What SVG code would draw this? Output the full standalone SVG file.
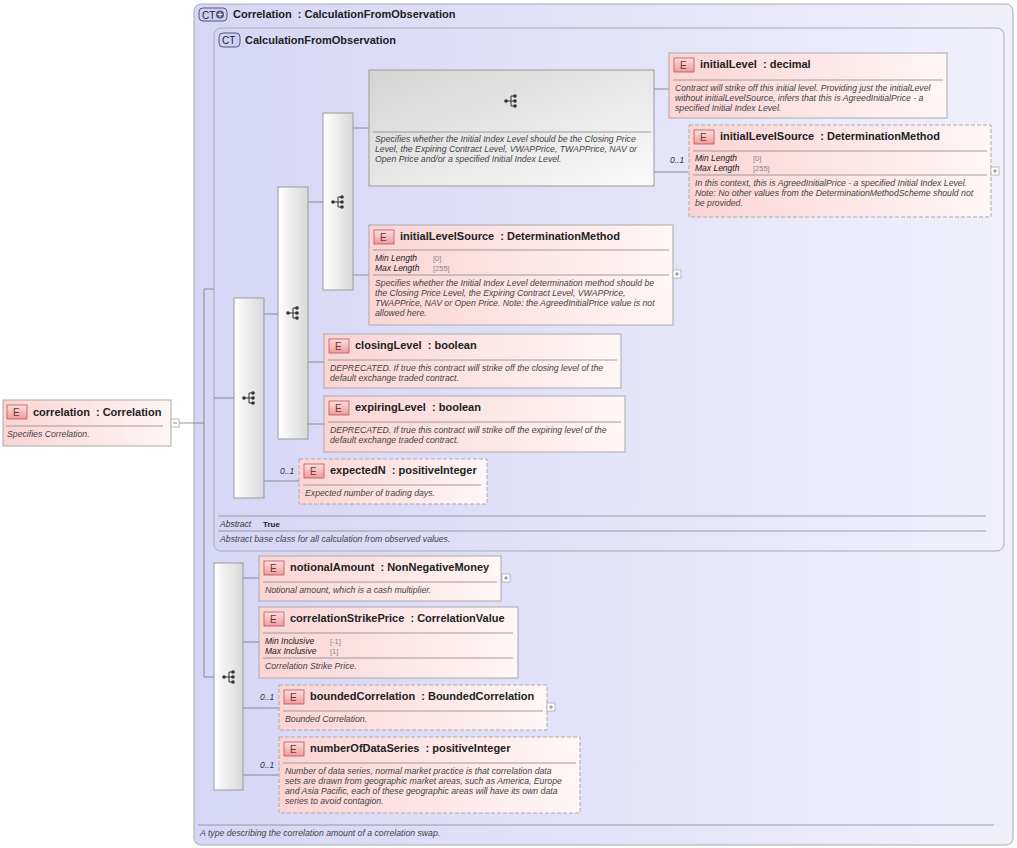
<svg xmlns="http://www.w3.org/2000/svg" width="1017" height="848" viewBox="0 0 1017 848">
<defs>
<linearGradient id="ct" x1="0" y1="0" x2="1" y2="0"><stop offset="0" stop-color="#d6d6f6"/><stop offset="1" stop-color="#f0f0fc"/></linearGradient>
<linearGradient id="el" x1="0" y1="0" x2="1" y2="0"><stop offset="0" stop-color="#fbd4d4"/><stop offset="1" stop-color="#fff6f6"/></linearGradient>
<linearGradient id="seq" x1="0" y1="0" x2="1" y2="0"><stop offset="0" stop-color="#ffffff"/><stop offset="1" stop-color="#d8d8d8"/></linearGradient>
<linearGradient id="ch" x1="0" y1="0" x2="1" y2="1"><stop offset="0" stop-color="#d4d4d4"/><stop offset="1" stop-color="#fafafa"/></linearGradient>
<linearGradient id="badge" x1="0" y1="0" x2="0" y2="1"><stop offset="0" stop-color="#fbe0e0"/><stop offset="1" stop-color="#f09a9a"/></linearGradient>
<g id="icon"><circle cx="-5" cy="0" r="1.8" fill="#333"/><path d="M-5 0H0M0 -5V5M0 -5H4M0 0H4M0 5H4" stroke="#333" fill="none" stroke-width="1"/><circle cx="4" cy="-5" r="1.8" fill="#333"/><circle cx="4" cy="0" r="1.8" fill="#333"/><circle cx="4" cy="5" r="1.8" fill="#333"/></g>
</defs>
<style>
text{font-family:"Liberation Sans",Arial,sans-serif;fill:#222}
.t{font-size:11px;font-weight:bold;white-space:pre}
.d{font-size:8.7px;font-style:italic;fill:#444}
.f{font-size:8.5px;font-style:italic;fill:#222}
.v{font-size:7.5px;fill:#888}
.m{font-size:8.5px;font-style:italic;fill:#333}
.b{font-size:10px;fill:#733}
.el{fill:url(#el);stroke:#aaa;stroke-width:1}
.opt{stroke-dasharray:4 2}
.sep{stroke:#888;stroke-width:0.8}
.seq{fill:url(#seq);stroke:#999}
.c{stroke:#777;fill:none;stroke-width:0.8}
.pm{fill:#fff;stroke:#aaa;stroke-width:0.8}
.bd{fill:url(#badge);stroke:#b55;stroke-width:0.8}
</style>
<g id="ctOuter"><rect x="194" y="4" width="819" height="841" rx="7" fill="url(#ct)" stroke="#aaa"/>
<rect x="199" y="8" width="28" height="13" rx="4" fill="#d0d0f4" stroke="#557"/><text x="202" y="18.5" style="font-size:10px" fill="#335">CT</text><circle cx="220" cy="14.5" r="4" fill="#557"/><path d="M217.5 14.5h5M220 12v5" stroke="#fff"/>
<text class="t" x="233" y="18">Correlation  : CalculationFromObservation</text>
<line class="sep" x1="198" y1="825" x2="994" y2="825"/><text class="d" x="200" y="836">A type describing the correlation amount of a correlation swap.</text></g>
<g id="ctInner"><rect x="214" y="28" width="790" height="523" rx="7" fill="url(#ct)" stroke="#aaa"/>
<rect x="219" y="33" width="21" height="14" rx="4" fill="#d0d0f4" stroke="#557"/><text x="222" y="44" style="font-size:10px" fill="#335">CT</text>
<text class="t" x="245" y="44">CalculationFromObservation</text>
<line class="sep" x1="218" y1="516" x2="986" y2="516"/><text class="m" x="220" y="527">Abstract</text><text x="263" y="527" style="font-size:8px;font-weight:bold">True</text>
<line class="sep" x1="218" y1="531" x2="986" y2="531"/><text class="d" x="220" y="542">Abstract base class for all calculation from observed values.</text></g>
<g id="connectors">
<path class="c" d="M179 423H204M204 289V677M204 289H214M204 677H214M214 398H234M264 314H278M308 202H323M353 128H369M654 89H669M654 172H688M353 275H369M308 362H324M308 424H324M264 481H299M243 578H259M243 642H259M243 708H279M243 775H279"/>
<text class="m" x="670" y="163">0..1</text><text class="m" x="280" y="474">0..1</text><text class="m" x="260" y="700">0..1</text><text class="m" x="260" y="768">0..1</text>
</g>
<g id="seq1"><rect class="seq" x="234" y="298" width="30" height="200"/><use href="#icon" x="249" y="398"/></g>
<g id="seq2"><rect class="seq" x="278" y="187" width="30" height="252"/><use href="#icon" x="293" y="313"/></g>
<g id="seq3"><rect class="seq" x="323" y="113" width="30" height="177"/><use href="#icon" x="338" y="202"/></g>
<g id="seq4"><rect class="seq" x="214" y="563" width="29" height="227"/><use href="#icon" x="229" y="677"/></g>
<g id="choice"><rect x="369" y="70" width="285" height="116" fill="url(#ch)" stroke="#999"/><use href="#icon" x="511" y="101"/><line class="sep" x1="373" y1="132" x2="651" y2="132"/>
<text class="d" x="375" y="142">Specifies whether the Initial Index Level should be the Closing Price</text><text class="d" x="375" y="152">Level, the Expiring Contract Level, VWAPPrice, TWAPPrice, NAV or</text><text class="d" x="375" y="162">Open Price and/or a specified Initial Index Level.</text></g>
<g id="correlation"><rect class="el" x="3" y="400" width="168" height="46"/><rect class="bd" x="7" y="405" width="20" height="14"/><text class="b" x="13" y="416">E</text><text class="t" x="33" y="416">correlation  : Correlation</text><line class="sep" x1="6" y1="426" x2="163" y2="426"/><text class="d" x="7" y="437">Specifies Correlation.</text><rect class="pm" x="171" y="419" width="8" height="8"/><path d="M173 423h4" stroke="#888"/></g>
<g id="initialLevel"><rect class="el" x="669" y="53" width="278" height="65"/><rect class="bd" x="674" y="58" width="20" height="14"/><text class="b" x="680" y="69">E</text><text class="t" x="700" y="68">initialLevel  : decimal</text><line class="sep" x1="673" y1="80" x2="943" y2="80"/>
<text class="d" x="675" y="91">Contract will strike off this initial level. Providing just the initialLevel</text><text class="d" x="675" y="101">without initialLevelSource, infers that this is AgreedInitialPrice - a</text><text class="d" x="675" y="111">specified Initial Index Level.</text></g>
<g id="initialLevelSource1"><rect class="el opt" x="689" y="125" width="302" height="92"/><rect class="bd" x="694" y="130" width="20" height="14"/><text class="b" x="700" y="141">E</text><text class="t" x="720" y="140">initialLevelSource  : DeterminationMethod</text><line class="sep" x1="693" y1="151" x2="987" y2="151"/>
<text class="f" x="695" y="161">Min Length</text><text class="v" x="753" y="161">[0]</text><text class="f" x="695" y="171">Max Length</text><text class="v" x="753" y="171">[255]</text><line class="sep" x1="693" y1="175" x2="987" y2="175"/>
<text class="d" x="695" y="186">In this context, this is AgreedInitialPrice - a specified Initial Index Level.</text><text class="d" x="695" y="196">Note: No other values from the DeterminationMethodScheme should not</text><text class="d" x="695" y="206">be provided.</text>
<rect class="pm" x="991" y="167" width="8" height="8"/><path d="M993 171h4M995 169v4" stroke="#888"/></g>
<g id="initialLevelSource2"><rect class="el" x="369" y="225" width="304" height="100"/><rect class="bd" x="374" y="230" width="20" height="14"/><text class="b" x="380" y="241">E</text><text class="t" x="400" y="240">initialLevelSource  : DeterminationMethod</text><line class="sep" x1="373" y1="250" x2="669" y2="250"/>
<text class="f" x="375" y="261">Min Length</text><text class="v" x="433" y="261">[0]</text><text class="f" x="375" y="271">Max Length</text><text class="v" x="433" y="271">[255]</text><line class="sep" x1="373" y1="275" x2="669" y2="275"/>
<text class="d" x="375" y="286">Specifies whether the Initial Index Level determination method should be</text><text class="d" x="375" y="296">the Closing Price Level, the Expiring Contract Level, VWAPPrice,</text><text class="d" x="375" y="306">TWAPPrice, NAV or Open Price. Note: the AgreedInitialPrice value is not</text><text class="d" x="375" y="316">allowed here.</text>
<rect class="pm" x="673" y="270" width="8" height="8"/><path d="M675 274h4M677 272v4" stroke="#888"/></g>
<g id="closingLevel"><rect class="el" x="324" y="334" width="297" height="54"/><rect class="bd" x="329" y="339" width="20" height="14"/><text class="b" x="335" y="350">E</text><text class="t" x="355" y="349">closingLevel  : boolean</text><line class="sep" x1="328" y1="360" x2="617" y2="360"/>
<text class="d" x="330" y="371">DEPRECATED. If true this contract will strike off the closing level of the</text><text class="d" x="330" y="381">default exchange traded contract.</text></g>
<g id="expiringLevel"><rect class="el" x="324" y="396" width="301" height="56"/><rect class="bd" x="329" y="401" width="20" height="14"/><text class="b" x="335" y="412">E</text><text class="t" x="355" y="411">expiringLevel  : boolean</text><line class="sep" x1="328" y1="422" x2="621" y2="422"/>
<text class="d" x="330" y="433">DEPRECATED. If true this contract will strike off the expiring level of the</text><text class="d" x="330" y="443">default exchange traded contract.</text></g>
<g id="expectedN"><rect class="el opt" x="299" y="459" width="188" height="45"/><rect class="bd" x="304" y="464" width="20" height="14"/><text class="b" x="310" y="475">E</text><text class="t" x="330" y="474">expectedN  : positiveInteger</text><line class="sep" x1="303" y1="485" x2="481" y2="485"/><text class="d" x="305" y="496">Expected number of trading days.</text></g>
<g id="notionalAmount"><rect class="el" x="259" y="556" width="242" height="45"/><rect class="bd" x="264" y="561" width="20" height="14"/><text class="b" x="270" y="572">E</text><text class="t" x="290" y="571">notionalAmount  : NonNegativeMoney</text><line class="sep" x1="263" y1="582" x2="497" y2="582"/><text class="d" x="265" y="593">Notional amount, which is a cash multiplier.</text>
<rect class="pm" x="502" y="574" width="8" height="8"/><path d="M504 578h4M506 576v4" stroke="#888"/></g>
<g id="correlationStrikePrice"><rect class="el" x="259" y="607" width="259" height="71"/><rect class="bd" x="264" y="612" width="20" height="14"/><text class="b" x="270" y="623">E</text><text class="t" x="290" y="622">correlationStrikePrice  : CorrelationValue</text><line class="sep" x1="263" y1="633" x2="513" y2="633"/>
<text class="f" x="265" y="644">Min Inclusive</text><text class="v" x="330" y="644">[-1]</text><text class="f" x="265" y="654">Max Inclusive</text><text class="v" x="330" y="654">[1]</text><line class="sep" x1="263" y1="658" x2="513" y2="658"/><text class="d" x="265" y="669">Correlation Strike Price.</text></g>
<g id="boundedCorrelation"><rect class="el opt" x="279" y="685" width="268" height="45"/><rect class="bd" x="284" y="690" width="20" height="14"/><text class="b" x="290" y="701">E</text><text class="t" x="310" y="700">boundedCorrelation  : BoundedCorrelation</text><line class="sep" x1="283" y1="711" x2="543" y2="711"/><text class="d" x="285" y="722">Bounded Correlation.</text>
<rect class="pm" x="547" y="703" width="8" height="8"/><path d="M549 707h4M551 705v4" stroke="#888"/></g>
<g id="numberOfDataSeries"><rect class="el opt" x="279" y="737" width="301" height="76"/><rect class="bd" x="284" y="742" width="20" height="14"/><text class="b" x="290" y="753">E</text><text class="t" x="310" y="752">numberOfDataSeries  : positiveInteger</text><line class="sep" x1="283" y1="763" x2="576" y2="763"/>
<text class="d" x="285" y="774">Number of data series, normal market practice is that correlation data</text><text class="d" x="285" y="784">sets are drawn from geographic market areas, such as America, Europe</text><text class="d" x="285" y="794">and Asia Pacific, each of these geographic areas will have its own data</text><text class="d" x="285" y="804">series to avoid contagion.</text></g>
</svg>
